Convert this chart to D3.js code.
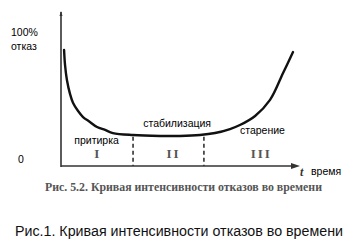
<!DOCTYPE html>
<html>
<head>
<meta charset="utf-8">
<script src="https://cdn.jsdelivr.net/npm/d3@7"></script>
<style>
  html, body { margin: 0; padding: 0; background: #fff; }
  svg { display: block; }
</style>
</head>
<body>
<svg id="chart" width="361" height="249"></svg>
<script>
// Данные кривой (время, интенсивность отказов в %)
const curveTime = [1.3, 1.7, 2.5, 3.8, 5.1, 7.2, 9.3, 12.2, 15.2, 18.6, 21.9, 30.4, 41.8, 50.2, 58.6, 65.0, 71.3, 75.5, 81.9, 88.2, 93.7, 97.9];
const curveRate = [75.3, 65.6, 55.8, 46.8, 40.9, 35.7, 31.8, 28.6, 25.3, 23.4, 21.4, 20.1, 19.5, 19.5, 20.1, 21.4, 24.0, 26.6, 32.5, 42.9, 60.4, 74.0];
const phaseBounds = [30.4, 60.3];
const phaseNames = ["притирка", "стабилизация", "старение"];
const phaseNumerals = ["I", "II", "III"];
const yLabels = ["100%", "отказ", "0"];

const svg = d3.select("#chart");

const x = d3.scaleLinear().domain([0, 100]).range([61, 298]);
const y = d3.scaleLinear().domain([0, 100]).range([166, 12]);

// Оси
svg.append("line")
  .attr("x1", x(0)).attr("x2", x(0))
  .attr("y1", y(0) + 1).attr("y2", y(100))
  .attr("stroke", "#333").attr("stroke-width", 1.6);
svg.append("line")
  .attr("x1", x(0)).attr("x2", x(100) - 4)
  .attr("y1", y(0)).attr("y2", y(0))
  .attr("stroke", "#333").attr("stroke-width", 1.6);

// стрелки
svg.append("path")
  .attr("d", `M ${x(100) + 2},${y(0)} l -9,-3 l 0,6 z`)
  .attr("fill", "#333");
svg.append("path")
  .attr("d", `M ${x(0)},${y(100) - 1} l -1.5,5 l 3,0 z`)
  .attr("fill", "#333");

// пунктирные границы этапов
svg.selectAll(".bound")
  .data(phaseBounds)
  .join("line")
  .attr("class", "bound")
  .attr("x1", d => x(d)).attr("x2", d => x(d))
  .attr("y1", y(19)).attr("y2", y(0))
  .attr("stroke", "#333").attr("stroke-width", 1.6)
  .attr("stroke-dasharray", "4,3");

// кривая
const pts = curveTime.map((t, i) => [t, curveRate[i]]);
svg.append("path")
  .datum(pts)
  .attr("d", d3.line().x(d => x(d[0])).y(d => y(d[1])).curve(d3.curveCatmullRom))
  .attr("fill", "none")
  .attr("stroke", "#111")
  .attr("stroke-width", 2.4)
  .attr("stroke-linecap", "round");

// римские цифры
const numX = [15.5, 47.5, 84.5];
svg.selectAll(".num")
  .data(phaseNumerals)
  .join("text")
  .attr("class", "num")
  .attr("x", (d, i) => x(numX[i]))
  .attr("y", y(5.5))
  .attr("text-anchor", "middle")
  .attr("font-family", "Liberation Serif, serif")
  .attr("font-weight", "bold")
  .attr("font-size", 13)
  .attr("fill", "#555")
  .attr("letter-spacing", 2)
  .text(d => d);

// подписи этапов
const nameX = [15, 49, 85];
const nameY = [14.5, 25.5, 20.5];
svg.selectAll(".phase")
  .data(phaseNames)
  .join("text")
  .attr("class", "phase")
  .attr("x", (d, i) => x(nameX[i]))
  .attr("y", (d, i) => y(nameY[i]))
  .attr("text-anchor", "middle")
  .attr("font-family", "Liberation Sans, Arial, sans-serif")
  .attr("font-size", 10.5)
  .attr("fill", "#000")
  .text(d => d);

// подписи оси Y
svg.append("text").attr("x", 11).attr("y", 36)
  .attr("font-family", "Liberation Sans, Arial, sans-serif").attr("font-size", 10.5)
  .text(yLabels[0]);
svg.append("text").attr("x", 11).attr("y", 50)
  .attr("font-family", "Liberation Sans, Arial, sans-serif").attr("font-size", 10.5)
  .text(yLabels[1]);
svg.append("text").attr("x", 18).attr("y", 163)
  .attr("font-family", "Liberation Sans, Arial, sans-serif").attr("font-size", 10.5)
  .text(yLabels[2]);

// подписи оси X
svg.append("text").attr("x", 300).attr("y", 176)
  .attr("font-family", "Liberation Serif, serif").attr("font-style", "italic")
  .attr("font-weight", "bold").attr("font-size", 12).attr("fill", "#333")
  .text("t");
svg.append("text").attr("x", 311).attr("y", 175)
  .attr("font-family", "Liberation Sans, Arial, sans-serif").attr("font-size", 10.5)
  .text("время");

// подпись рисунка
svg.append("text").attr("x", 45).attr("y", 191)
  .attr("font-family", "Liberation Serif, serif").attr("font-weight", "bold")
  .attr("font-size", 11.5).attr("fill", "#555")
  .attr("textLength", 277).attr("lengthAdjust", "spacingAndGlyphs")
  .text("Рис. 5.2. Кривая интенсивности отказов во времени");

svg.append("text").attr("x", 15).attr("y", 236)
  .attr("font-family", "Liberation Sans, Arial, sans-serif")
  .attr("font-size", 14).attr("fill", "#111")
  .attr("textLength", 328).attr("lengthAdjust", "spacingAndGlyphs")
  .text("Рис.1. Кривая интенсивности отказов во времени");
</script>
</body>
</html>
